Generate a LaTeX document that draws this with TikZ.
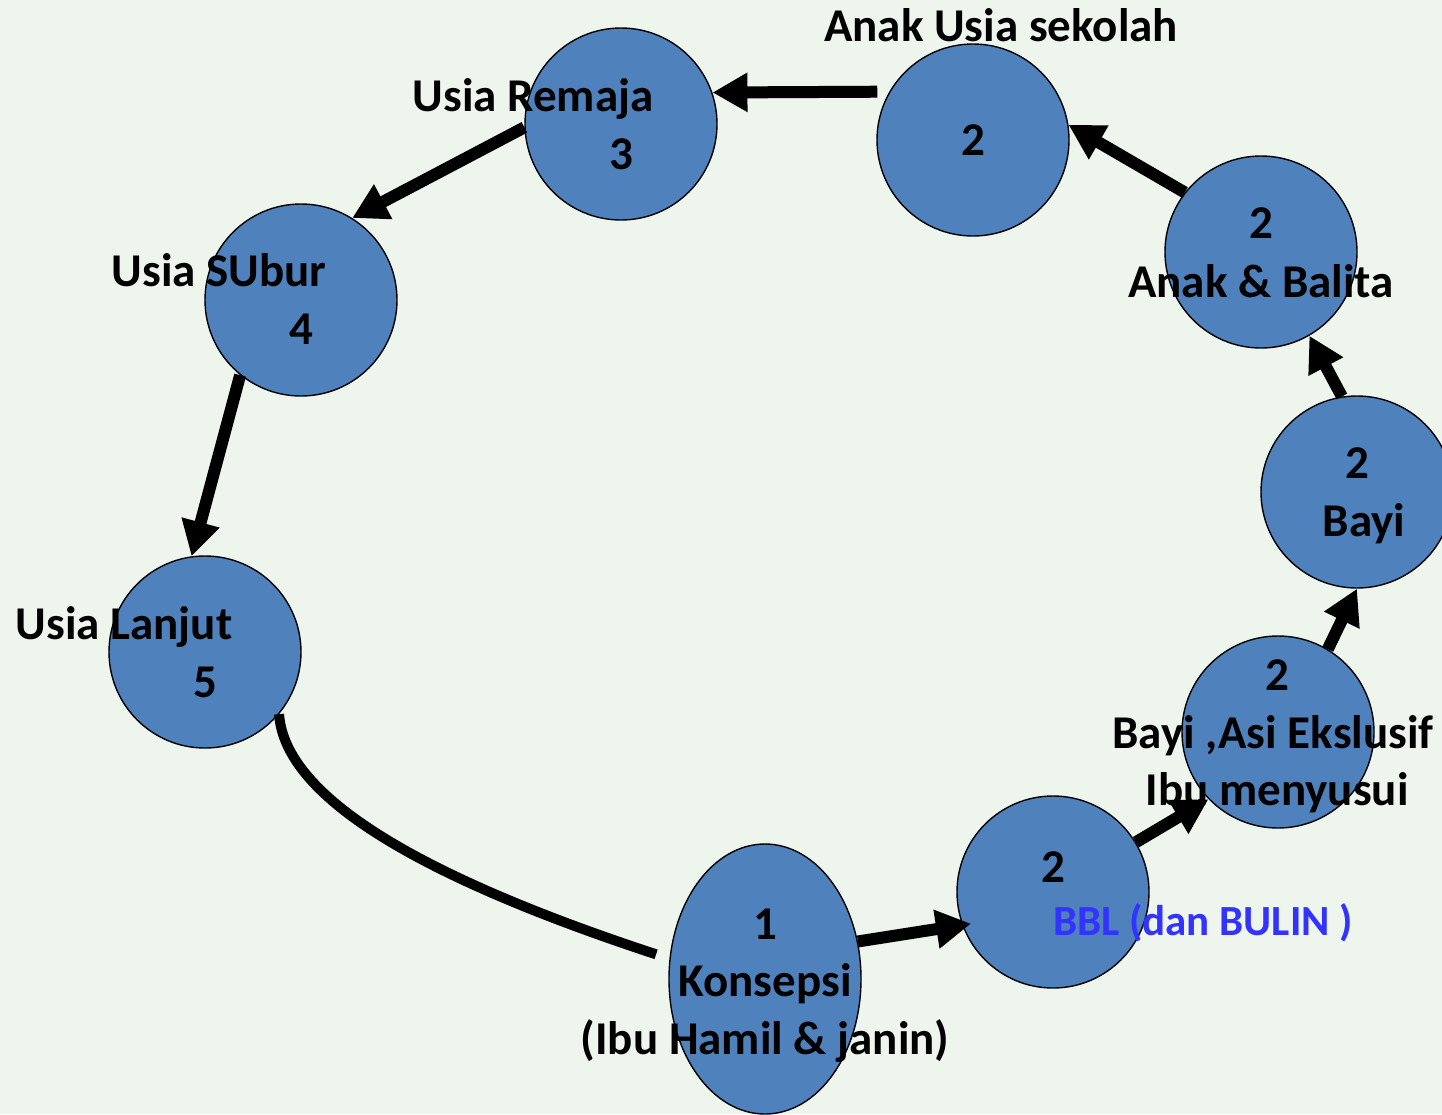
\documentclass[tikz,border=0pt]{standalone}
\usepackage{fontspec}
\setmainfont{Carlito}
\usetikzlibrary{arrows.meta,shapes.geometric}
\definecolor{bgc}{HTML}{EEF5EC}
\definecolor{cfill}{HTML}{4F81BD}
\definecolor{bbl}{HTML}{3333FF}
\begin{document}
\begin{tikzpicture}[x=1pt,y=-1pt,
  stage/.style={circle,draw=black,line width=1.4pt,fill=cfill,minimum size=192pt,inner sep=0pt},
  egg/.style={ellipse,draw=black,line width=1.4pt,fill=cfill,minimum width=192pt,minimum height=270pt,inner sep=0pt},
  lbl/.style={font=\fontsize{47}{57}\selectfont\bfseries,inner sep=0pt,anchor=base,align=center},
  arr/.style={line width=12pt,-{Triangle[length=35pt,width=37pt]}}]
\fill[bgc] (0,0) rectangle (1442,1114);
\useasboundingbox (0,0) rectangle (1442,1114);
% circles
\node[stage] (sekolah) at (973,140) {};
\node[stage] (remaja) at (621,124) {};
\node[stage] (subur) at (301,300) {};
\node[stage] (lanjut) at (205,652) {};
\node[egg] (konsepsi) at (765,979) {};
\node[stage] (bblc) at (1053,892) {};
\node[stage] (asi) at (1278,732) {};
\node[stage] (bayi) at (1357,492) {};
\node[stage] (balita) at (1261,252) {};
% connectors
\draw[arr,shorten <=12pt] (sekolah.150) -- (remaja.19);
\draw[arr] (balita.142) -- (sekolah.9);
\draw[arr] (bayi.99) -- (balita.300);
\draw[arr] (asi.59) -- (bayi.270);
\draw[arr] (bblc.31) -- (asi.224);
\draw[arr,shorten >=-9pt] (konsepsi.22) -- (bblc.200);
\draw[arr] (remaja.182) -- (subur.58);
\draw[arr] (subur.231) -- (lanjut.98);
\draw[line width=10pt,shorten >=14pt] (lanjut.320) .. controls (285,800) and (430,880) .. (konsepsi.168);
% labels
\node[lbl] (t1) at (1001,41) {Anak Usia sekolah};
\node[lbl] (t2) at (973,155) {2};
\node[lbl] (t3) at (533,111) {Usia Remaja};
\node[lbl] (t4) at (621,169) {3};
\node[lbl] (t5) at (219,286) {Usia SUbur};
\node[lbl] (t6) at (301,344) {4};
\node[lbl] (t7) at (124,639) {Usia Lanjut};
\node[lbl] (t8) at (205,697) {5};
\node[lbl] (t9) at (1261,238) {2};
\node[lbl] (t10) at (1261,297) {Anak \& Balita};
\node[lbl] (t11) at (1357,478) {2};
\node[lbl] (t12) at (1364,536) {Bayi};
\node[lbl] (t13) at (1277,690) {2};
\node[lbl] (t14) at (1273,748) {Bayi ,Asi Ekslusif};
\node[lbl] (t15) at (1277,805) {Ibu menyusui};
\node[lbl] (t16) at (1053,882) {2};
\node[lbl,text=bbl,font=\fontsize{43}{52}\selectfont\bfseries] (t17) at (1203,935) {BBL (dan BULIN )};
\node[lbl] (t18) at (765,939) {1};
\node[lbl] (t19) at (765,996) {Konsepsi};
\node[lbl] (t20) at (765,1054) {(Ibu Hamil \& janin)};
\end{tikzpicture}
\end{document}
